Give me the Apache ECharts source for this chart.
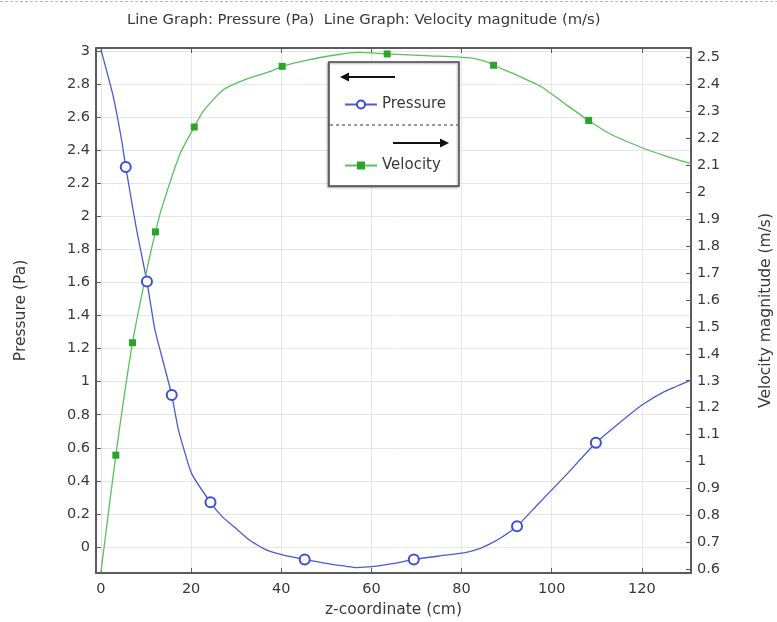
<!DOCTYPE html>
<html>
<head>
<meta charset="utf-8">
<title>Pressure and velocity along z</title>
<script src="https://cdn.jsdelivr.net/npm/echarts@6/dist/echarts.min.js"></script>
<style>
  html, body { margin: 0; padding: 0; background: #fff; }
  #chart { width: 777px; height: 622px; }
</style>
</head>
<body>
<div id="chart"></div>
<script>
// Pressure along the z-coordinate: [z (cm), pressure (Pa)]
const pressurePoints = [
  [0, 3.01], [2.7, 2.73], [4.6, 2.46], [5.5, 2.30], [7.9, 1.92], [10.2, 1.606],
  [12.0, 1.31], [14.1, 1.09], [15.7, 0.92], [17.2, 0.707], [20.1, 0.445],
  [24.3, 0.27], [27, 0.18], [29.6, 0.12], [33, 0.04], [36.8, -0.02], [40.5, -0.05],
  [45.2, -0.076], [50, -0.1], [56.8, -0.125], [60, -0.12], [65, -0.1],
  [69.4, -0.076], [75, -0.055], [80.5, -0.036], [84, -0.01], [86.4, 0.02],
  [89, 0.06], [92.3, 0.125], [97, 0.26], [103, 0.43], [109.8, 0.63],
  [115, 0.75], [120.1, 0.86], [125, 0.94], [130.9, 1.01]
];
// z positions that carry a circle marker
const pressureMarkerZ = [5.5, 10.2, 15.7, 24.3, 45.2, 69.4, 92.3, 109.8];

// Velocity magnitude along the z-coordinate: [z (cm), velocity (m/s)]
const velocityPoints = [
  [0, 0.59], [3.3, 1.024], [7.0, 1.441], [10.5, 1.736], [12.1, 1.852],
  [13.3, 1.93], [17.5, 2.14], [20.7, 2.241], [22.7, 2.30],
  [27.2, 2.38], [32, 2.417], [37.6, 2.447], [40.2, 2.466], [46, 2.49],
  [52.4, 2.509], [56.8, 2.518], [63.5, 2.512], [73, 2.505], [82, 2.497],
  [86, 2.48], [87.1, 2.47], [92, 2.435], [97.6, 2.391], [102.7, 2.33],
  [108.2, 2.265], [113, 2.215], [119.8, 2.166], [125, 2.135], [130.9, 2.105]
];
// z positions that carry a square marker
const velocityMarkerZ = [3.3, 7.0, 12.1, 20.7, 40.2, 63.5, 87.1, 108.2];

const zRange = [-1.1, 130.9];
const pressureRange = [-0.158, 3.02];
const velocityRange = [0.587, 2.534];

const titleText = 'Line Graph: Pressure (Pa)  Line Graph: Velocity magnitude (m/s)';
const xName = 'z-coordinate (cm)';
const pressureName = 'Pressure (Pa)';
const velocityName = 'Velocity magnitude (m/s)';

const FONT = 'DejaVu Sans';
const AXIS_COLOR = '#5c5c5c';
const TEXT_COLOR = '#3a3a3a';

function withMarkers(points, markerZ, symbol) {
  return points.map(function (p) {
    return {
      value: p,
      symbol: markerZ.indexOf(p[0]) >= 0 ? symbol : 'none'
    };
  });
}

const axisLineStyle = { show: true, onZero: false, lineStyle: { color: AXIS_COLOR, width: 2 } };
const innerTick = { show: true, inside: true, length: 5, lineStyle: { color: AXIS_COLOR, width: 1 } };
const labelStyle = { color: TEXT_COLOR, fontSize: 14.5, fontFamily: FONT, showMinLabel: false, showMaxLabel: false };
const nameStyle = { color: TEXT_COLOR, fontSize: 15.5, fontFamily: FONT };

const chart = echarts.init(document.getElementById('chart'), null, { renderer: 'canvas' });

chart.setOption({
  animation: false,
  backgroundColor: '#ffffff',
  textStyle: { fontFamily: FONT },
  title: {
    text: titleText,
    left: 122,
    top: 8,
    textStyle: { fontSize: 14.8, fontWeight: 'normal', color: TEXT_COLOR, fontFamily: FONT }
  },
  grid: { left: 96, right: 86, top: 48, bottom: 49, containLabel: false, outerBoundsMode: 'none' },
  legend: {
    data: ['Pressure', 'Velocity'],
    orient: 'vertical',
    left: 339,
    top: 92,
    itemWidth: 32,
    itemHeight: 10,
    itemGap: 46,
    z: 6,
    textStyle: { fontSize: 15, color: TEXT_COLOR, fontFamily: FONT }
  },
  xAxis: [
    {
      type: 'value',
      position: 'bottom',
      min: zRange[0],
      max: zRange[1],
      splitNumber: 7,
      axisLine: axisLineStyle,
      axisTick: innerTick,
      axisLabel: Object.assign({ margin: 9 }, labelStyle),
      splitLine: { show: true, lineStyle: { color: '#e6e6e6', width: 1 } },
      name: xName,
      nameLocation: 'middle',
      nameGap: 29,
      nameTextStyle: nameStyle
    },
    {
      type: 'value',
      position: 'top',
      min: zRange[0],
      max: zRange[1],
      splitNumber: 7,
      axisLine: axisLineStyle,
      axisTick: innerTick,
      axisLabel: { show: false },
      splitLine: { show: false }
    }
  ],
  yAxis: [
    {
      type: 'value',
      position: 'left',
      min: pressureRange[0],
      max: pressureRange[1],
      splitNumber: 16,
      axisLine: axisLineStyle,
      axisTick: innerTick,
      axisLabel: Object.assign({ margin: 6 }, labelStyle),
      splitLine: { show: true, lineStyle: { color: '#e6e6e6', width: 1 } },
      name: pressureName,
      nameLocation: 'middle',
      nameGap: 67,
      nameTextStyle: nameStyle
    },
    {
      type: 'value',
      position: 'right',
      min: velocityRange[0],
      max: velocityRange[1],
      splitNumber: 20,
      axisLine: axisLineStyle,
      axisTick: innerTick,
      axisLabel: Object.assign({ margin: 6 }, labelStyle),
      splitLine: { show: false },
      name: velocityName,
      nameLocation: 'middle',
      nameGap: 67,
      nameTextStyle: nameStyle
    }
  ],
  series: [
    {
      name: 'Pressure',
      type: 'line',
      xAxisIndex: 0,
      yAxisIndex: 0,
      smooth: 0.15,
      symbol: 'emptyCircle',
      symbolSize: 10,
      showSymbol: true,
      z: 3,
      lineStyle: { color: '#4a5bd4', width: 1.3 },
      itemStyle: { color: '#3b4fd9', borderColor: '#3b4fd9', borderWidth: 1.5 },
      data: withMarkers(pressurePoints, pressureMarkerZ, 'emptyCircle')
    },
    {
      name: 'Velocity',
      type: 'line',
      xAxisIndex: 0,
      yAxisIndex: 1,
      smooth: 0.2,
      symbol: 'rect',
      symbolSize: 7,
      showSymbol: true,
      z: 3,
      lineStyle: { color: '#5cbf5c', width: 1.3 },
      itemStyle: { color: '#2aa52a' },
      data: withMarkers(velocityPoints, velocityMarkerZ, 'rect')
    }
  ],
  graphic: [
    // faint dashed rule across the top of the page
    {
      type: 'line', z: 1,
      shape: { x1: 0, y1: 1.5, x2: 777, y2: 1.5 },
      style: { stroke: '#bbbbbb', lineWidth: 1, lineDash: [3, 2] }
    },
    // legend frame
    {
      type: 'rect', z: 4,
      shape: { x: 329, y: 62, width: 130, height: 124 },
      style: { fill: '#ffffff', stroke: '#4a4a4a', lineWidth: 1.5,
               shadowColor: 'rgba(0,0,0,0.35)', shadowBlur: 2, shadowOffsetX: -1, shadowOffsetY: 1 }
    },
    // left-pointing arrow: pressure belongs to the left axis
    {
      type: 'line', z: 5,
      shape: { x1: 347, y1: 77, x2: 395, y2: 77 },
      style: { stroke: '#111', lineWidth: 2 }
    },
    {
      type: 'polygon', z: 5,
      shape: { points: [[340, 77], [349, 72.5], [349, 81.5]] },
      style: { fill: '#111' }
    },
    // separator between the two entries
    {
      type: 'line', z: 5,
      shape: { x1: 330, y1: 125, x2: 458, y2: 125 },
      style: { stroke: '#333', lineWidth: 1, lineDash: [3, 3] }
    },
    // right-pointing arrow: velocity belongs to the right axis
    {
      type: 'line', z: 5,
      shape: { x1: 393, y1: 143, x2: 442, y2: 143 },
      style: { stroke: '#111', lineWidth: 2 }
    },
    {
      type: 'polygon', z: 5,
      shape: { points: [[449, 143], [440, 138.5], [440, 147.5]] },
      style: { fill: '#111' }
    }
  ]
});
</script>
</body>
</html>
